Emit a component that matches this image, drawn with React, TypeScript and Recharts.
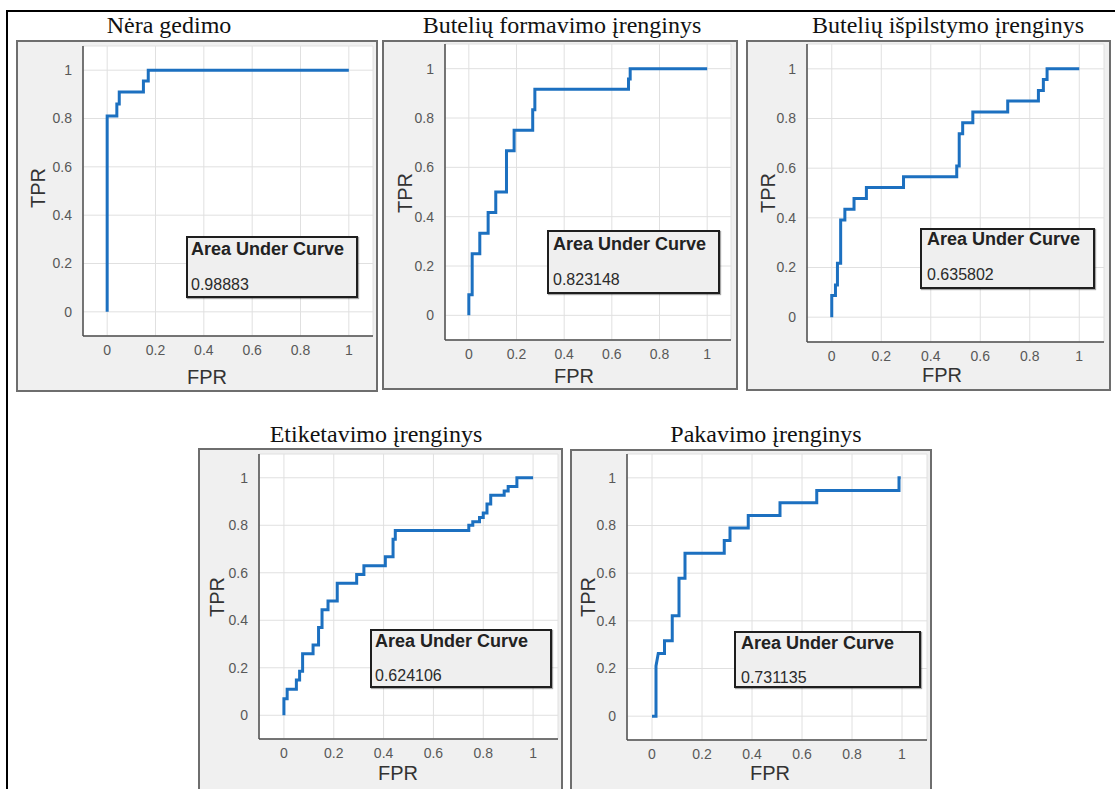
import { LineChart, Line, XAxis, YAxis, CartesianGrid } from 'recharts';

// axis ticks shared by every panel
const ticks = [0, 0.2, 0.4, 0.6, 0.8, 1];

const titles = [
  'Nėra gedimo',
  'Butelių formavimo įrenginys',
  'Butelių išpilstymo įrenginys',
  'Etiketavimo įrenginys',
  'Pakavimo įrenginys',
];
const aucValues = ['0.98883', '0.823148', '0.635802', '0.624106', '0.731135'];

// ROC curves (step vertices)
const nfFpr = [0, 0, 0.04, 0.04, 0.05, 0.05, 0.15, 0.15, 0.17, 0.17, 1];
const nfTpr = [0, 0.81, 0.81, 0.86, 0.86, 0.91, 0.91, 0.955, 0.955, 1, 1];

const bfFpr = [0, 0, 0.014, 0.014, 0.046, 0.046, 0.081, 0.081, 0.113, 0.113, 0.158, 0.158, 0.19, 0.19, 0.268, 0.268, 0.277, 0.277, 0.67, 0.67, 0.677, 0.677, 1];
const bfTpr = [0, 0.083, 0.083, 0.25, 0.25, 0.333, 0.333, 0.417, 0.417, 0.5, 0.5, 0.667, 0.667, 0.75, 0.75, 0.833, 0.833, 0.917, 0.917, 0.958, 0.958, 1, 1];

const biFpr = [0, 0, 0.015, 0.015, 0.023, 0.023, 0.036, 0.036, 0.053, 0.053, 0.09, 0.09, 0.14, 0.14, 0.29, 0.29, 0.505, 0.505, 0.515, 0.515, 0.529, 0.529, 0.57, 0.57, 0.711, 0.711, 0.835, 0.835, 0.855, 0.855, 0.87, 0.87, 1];
const biTpr = [0, 0.087, 0.087, 0.13, 0.13, 0.217, 0.217, 0.391, 0.391, 0.435, 0.435, 0.478, 0.478, 0.522, 0.522, 0.565, 0.565, 0.609, 0.609, 0.739, 0.739, 0.783, 0.783, 0.826, 0.826, 0.87, 0.87, 0.913, 0.913, 0.957, 0.957, 1, 1];

const etFpr = [0, 0, 0.013, 0.013, 0.05, 0.05, 0.063, 0.063, 0.075, 0.075, 0.117, 0.117, 0.139, 0.139, 0.153, 0.153, 0.177, 0.177, 0.214, 0.214, 0.292, 0.292, 0.321, 0.321, 0.407, 0.407, 0.438, 0.438, 0.447, 0.447, 0.742, 0.742, 0.758, 0.758, 0.785, 0.785, 0.8, 0.8, 0.815, 0.815, 0.83, 0.83, 0.884, 0.884, 0.9, 0.9, 0.935, 0.935, 1];
const etTpr = [0, 0.07, 0.07, 0.11, 0.11, 0.148, 0.148, 0.185, 0.185, 0.259, 0.259, 0.296, 0.296, 0.37, 0.37, 0.444, 0.444, 0.481, 0.481, 0.556, 0.556, 0.593, 0.593, 0.63, 0.63, 0.667, 0.667, 0.741, 0.741, 0.778, 0.778, 0.8, 0.8, 0.815, 0.815, 0.833, 0.833, 0.852, 0.852, 0.889, 0.889, 0.926, 0.926, 0.944, 0.944, 0.963, 0.963, 1, 1];

const pkFpr = [0, 0.016, 0.016, 0.025, 0.05, 0.05, 0.081, 0.081, 0.108, 0.108, 0.132, 0.132, 0.289, 0.289, 0.312, 0.312, 0.385, 0.385, 0.512, 0.512, 0.659, 0.659, 0.988, 0.988, 0.995];
const pkTpr = [0, 0, 0.211, 0.263, 0.263, 0.316, 0.316, 0.421, 0.421, 0.579, 0.579, 0.684, 0.684, 0.737, 0.737, 0.789, 0.789, 0.842, 0.842, 0.895, 0.895, 0.947, 0.947, 1, 1];

const curves = [
  [nfFpr, nfTpr],
  [bfFpr, bfTpr],
  [biFpr, biTpr],
  [etFpr, etTpr],
  [pkFpr, pkTpr],
];

// page layout of each panel (pixels)
type Layout = {
  box: number[]; // x, y, w, h
  plot: number[]; // left, top, right, bottom
  title: number[]; // centre x, top
  tpr: number[];
  fpr: number[];
  auc: number[]; // x, y, w, h
  aucText: number[]; // left pad, baseline 1, baseline 2
};

const layouts: Layout[] = [
  { box: [16, 40, 362, 352], plot: [83, 46, 373, 336], title: [169, 13], tpr: [38, 188], fpr: [207, 377], auc: [186, 236, 172, 62], aucText: [3, 19, 54] },
  { box: [382, 40, 356, 350], plot: [445, 44, 731, 340], title: [562, 13], tpr: [405, 193], fpr: [574, 376], auc: [547, 230, 173, 64], aucText: [4, 20, 55] },
  { box: [746, 40, 365, 351], plot: [807, 44, 1104, 342], title: [948, 13], tpr: [768, 193], fpr: [942, 375], auc: [920, 228, 175, 61], aucText: [5, 17, 52] },
  { box: [198, 448, 365, 346], plot: [259, 454, 558, 739], title: [376, 422], tpr: [217, 597], fpr: [398, 773], auc: [370, 629, 182, 59], aucText: [3, 18.5, 52] },
  { box: [570, 449, 362, 345], plot: [627, 454, 927, 740], title: [766, 422], tpr: [588, 597], fpr: [770, 773], auc: [734, 631, 187, 57], aucText: [5, 18.5, 52] },
];

const sans = '"Liberation Sans", Arial, sans-serif';
const serif = '"Liberation Serif", "Times New Roman", serif';
const Y_W = 40;
const X_H = 30;

function Panel({ idx }: { idx: number }) {
  const L = layouts[idx];
  const [fpr, tpr] = curves[idx];
  const data = fpr.map((x, i) => ({ fpr: x, tpr: tpr[i] }));
  const [bx, by, bw, bh] = L.box;
  const [pl, pt, pr, pb] = L.plot;
  const margin = {
    left: pl - bx - Y_W,
    top: pt - by,
    right: bx + bw - pr,
    bottom: by + bh - pb - X_H,
  };
  const [ax, ay, aw, ah] = L.auc;
  const [pad, b1, b2] = L.aucText;

  return (
    <>
      <div
        style={{
          position: 'absolute',
          left: L.title[0] - 250,
          top: L.title[1],
          width: 500,
          textAlign: 'center',
          fontFamily: serif,
          fontSize: 24,
          lineHeight: '24px',
          color: '#111',
          whiteSpace: 'nowrap',
        }}
      >
        {titles[idx]}
      </div>
      <div
        style={{
          position: 'absolute',
          left: bx,
          top: by,
          width: bw,
          height: bh,
          boxSizing: 'border-box',
          border: '2px solid #6e6e6e',
          background: '#f0f0f0',
        }}
      />
      <div style={{ position: 'absolute', left: bx, top: by, width: bw, height: bh }}>
        <LineChart width={bw} height={bh} data={data} margin={margin}>
          <CartesianGrid stroke="#e0e0e0" strokeWidth={1} fill="#ffffff" />
          <XAxis
            dataKey="fpr"
            type="number"
            domain={[-0.1, 1.1]}
            ticks={ticks}
            interval={0}
            height={X_H}
            allowDataOverflow
            tickLine={false}
            tickSize={0}
            tickMargin={9}
            axisLine={{ stroke: '#4d4d4d', strokeWidth: 1.5 }}
            tick={{ fill: '#585858', fontSize: 14, fontFamily: sans }}
          />
          <YAxis
            type="number"
            domain={[-0.1, 1.1]}
            ticks={ticks}
            interval={0}
            width={Y_W}
            allowDataOverflow
            tickLine={false}
            tickSize={0}
            tickMargin={11}
            axisLine={{ stroke: '#4d4d4d', strokeWidth: 1.5 }}
            tick={{ fill: '#585858', fontSize: 14, fontFamily: sans }}
          />
          <Line
            type="linear"
            dataKey="tpr"
            stroke="#1c70c0"
            strokeWidth={3}
            dot={false}
            activeDot={false}
            isAnimationActive={false}
          />
        </LineChart>
      </div>
      <div
        style={{
          position: 'absolute',
          left: L.tpr[0],
          top: L.tpr[1],
          transform: 'translate(-50%, -50%) rotate(-90deg)',
          fontFamily: sans,
          fontSize: 20,
          lineHeight: '20px',
          color: '#333',
          whiteSpace: 'nowrap',
        }}
      >
        TPR
      </div>
      <div
        style={{
          position: 'absolute',
          left: L.fpr[0],
          top: L.fpr[1],
          transform: 'translate(-50%, -50%)',
          fontFamily: sans,
          fontSize: 20,
          lineHeight: '20px',
          color: '#333',
          whiteSpace: 'nowrap',
        }}
      >
        FPR
      </div>
      <div
        style={{
          position: 'absolute',
          left: ax,
          top: ay,
          width: aw,
          height: ah,
          boxSizing: 'border-box',
          border: '2px solid #1e1e1e',
          background: '#efefef',
          boxShadow: '1px 1px 1px rgba(0,0,0,0.35)',
          fontFamily: sans,
          color: '#222',
          whiteSpace: 'nowrap',
        }}
      >
        <div style={{ position: 'absolute', left: pad, top: b1 - 2 - 15.2, fontSize: 18, lineHeight: '18px', fontWeight: 'bold' }}>
          Area Under Curve
        </div>
        <div style={{ position: 'absolute', left: pad, top: b2 - 2 - 13.5, fontSize: 16, lineHeight: '16px', color: '#2a2a2a' }}>
          {aucValues[idx]}
        </div>
      </div>
    </>
  );
}

export default function App() {
  return (
    <div
      style={{
        position: 'absolute',
        left: 0,
        top: 0,
        width: 1115,
        height: 789,
        overflow: 'hidden',
        background: '#fff',
      }}
    >
      <div
        style={{
          position: 'absolute',
          left: 6,
          top: 10,
          width: 1120,
          height: 800,
          borderLeft: '2px solid #000',
          borderTop: '2px solid #000',
        }}
      />
      {titles.map((_, i) => (
        <Panel key={i} idx={i} />
      ))}
    </div>
  );
}
